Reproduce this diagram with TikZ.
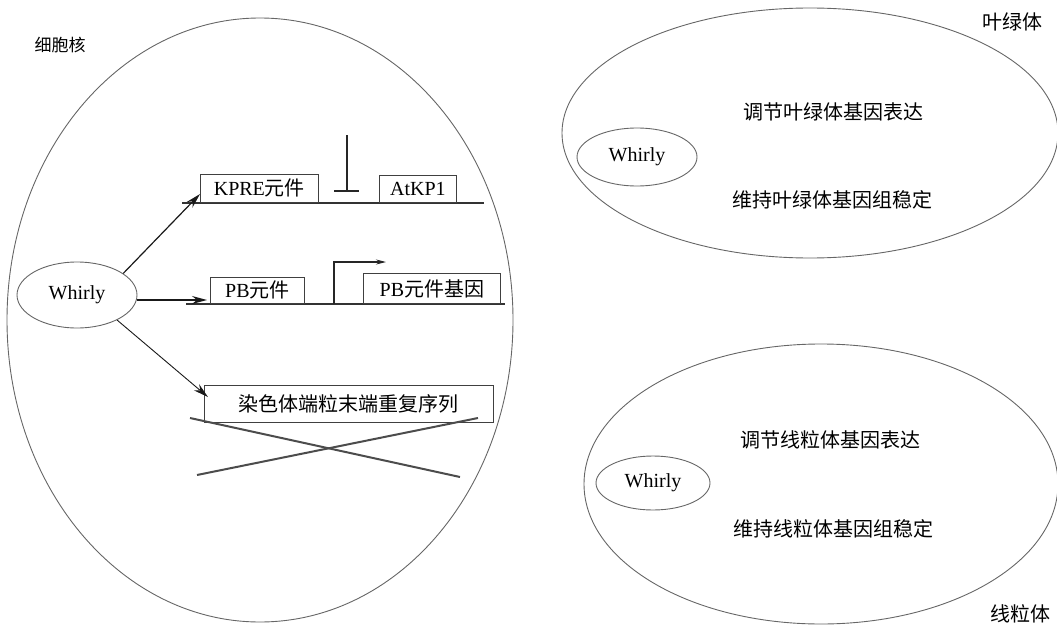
\documentclass[tikz,border=0pt]{standalone}
\usepackage{fontspec}
\setmainfont{Liberation Serif}
\newfontfamily\cjk{Noto Sans CJK SC}
\usetikzlibrary{arrows.meta,shapes.geometric}
\begin{document}
\begin{tikzpicture}[x=1pt,y=-1pt,
  every node/.style={font=\fontsize{20}{22}\selectfont},
  cell/.style={draw=black!60,line width=0.9pt,ellipse,inner sep=0pt},
  prot/.style={draw=black!60,line width=0.9pt,ellipse,inner sep=0pt},
  gbox/.style={draw=black!75,line width=0.8pt,rectangle,inner sep=0pt,anchor=north west},
  dna/.style={draw=black!80,line width=1.6pt},
  act/.style={draw=black!90,line width=1.2pt,-{Stealth[length=15pt,width=8pt,inset=5pt]}},
  cross/.style={draw=black!70,line width=2pt},
  lbl/.style={font=\fontsize{20}{22}\selectfont\cjk}
]
\useasboundingbox (0,0) rectangle (1057,626);

% nucleus
\node[cell,minimum width=506pt,minimum height=604pt] (nuc) at (260,320) {};
\node[lbl,font=\fontsize{17}{19}\selectfont\cjk] (nuclbl) at (60,45) {细胞核};
\node[prot,minimum width=120pt,minimum height=66pt] (w1) at (77,295) {Whirly};

% KPRE line
\coordinate (l1a) at (182,203);
\coordinate (l1b) at (484,203);
\draw[dna] (l1a) -- (l1b);
\node[gbox,minimum width=118pt,minimum height=28pt] (kpre) at (200,174) {};
\node at (kpre.center) (kpret) {KPRE{\cjk 元件}};
\node[gbox,minimum width=77pt,minimum height=27pt] (atkp) at (379,175) {};
\node at (atkp.center) (atkpt) {AtKP1};
\coordinate (tb1) at (347,135);
\coordinate (tb2) at (347,191);
\coordinate (tb3) at (334,191);
\coordinate (tb4) at (359,191);
\draw[draw=black!85,line width=1.6pt] (tb1) -- (tb2);
\draw[draw=black!85,line width=1.6pt] (tb3) -- (tb4);

% PB line
\coordinate (l2a) at (186,304);
\coordinate (l2b) at (505,304);
\draw[dna] (l2a) -- (l2b);
\node[gbox,minimum width=94pt,minimum height=26pt] (pb) at (210,277) {};
\node at (pb.center) (pbt) {PB{\cjk 元件}};
\node[gbox,minimum width=137pt,minimum height=30pt] (pbg) at (363,273) {};
\node at (pbg.center) (pbgt) {PB{\cjk 元件基因}};
\coordinate (pr1) at (334,304);
\coordinate (pr2) at (334,262);
\coordinate (pr3) at (386,262);
\draw[draw=black!85,line width=1.1pt,-{Stealth[length=10pt,width=5pt]}] (pr1) -- (pr2) -- (pr3);

% telomere
\node[gbox,minimum width=289pt,minimum height=37pt] (tel) at (204,385) {};
\node[lbl] at (tel.center) (telt) {染色体端粒末端重复序列};
\coordinate (c1a) at (190,418);
\coordinate (c1b) at (460,477);
\coordinate (c2a) at (197,475);
\coordinate (c2b) at (478,418);
\draw[cross] (c1a) -- (c1b);
\draw[cross] (c2a) -- (c2b);

% arrows from Whirly
\coordinate (a1e) at (200,194);
\coordinate (a2e) at (207,300);
\coordinate (a3e) at (208,397);
\draw[act] (w1.25) -- (a1e);
\draw[act] (w1.east |- a2e) -- (a2e);
\draw[act,line width=0.9pt] (w1.-32) -- (a3e);

% chloroplast
\node[cell,minimum width=496pt,minimum height=250pt] (chl) at (810,133) {};
\node[lbl] (chllbl) at (1012,22) {叶绿体};
\node[prot,minimum width=120pt,minimum height=58pt] (w2) at (637,157) {Whirly};
\node[lbl] (chl1) at (833,112) {调节叶绿体基因表达};
\node[lbl] (chl2) at (832,200) {维持叶绿体基因组稳定};

% mitochondrion
\node[cell,minimum width=474pt,minimum height=280pt] (mit) at (821,484) {};
\node[lbl] (mitlbl) at (1020,614) {线粒体};
\node[prot,minimum width=114pt,minimum height=54pt] (w3) at (653,483) {Whirly};
\node[lbl] (mit1) at (830,440) {调节线粒体基因表达};
\node[lbl] (mit2) at (833,529) {维持线粒体基因组稳定};
\end{tikzpicture}
\end{document}
